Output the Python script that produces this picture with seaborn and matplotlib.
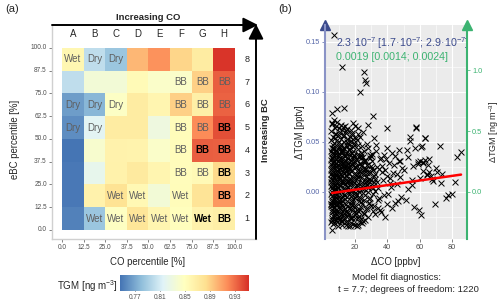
import numpy as np
import matplotlib.pyplot as plt
import seaborn as sns
from matplotlib.ticker import MultipleLocator

sns.set_style("white")
plt.rcParams['font.family'] = ['Liberation Sans', 'DejaVu Sans']
plt.rcParams['mathtext.fontset'] = 'custom'
plt.rcParams['mathtext.rm'] = 'Liberation Sans'
plt.rcParams['mathtext.it'] = 'Liberation Sans:italic'

# ---- panel (a) data ----
co_letters = ["A", "B", "C", "D", "E", "F", "G", "H"]
bc_rows = [8, 7, 6, 5, 4, 3, 2, 1]
pct_ticks = ["0.0", "12.5", "25.0", "37.5", "50.0", "62.5", "75.0", "87.5", "100.0"]
cbar_ticks = [0.77, 0.81, 0.85, 0.89, 0.93]

# TGM per cell, rows from BC class 8 (top) to 1 (bottom)
tgm_row8 = [0.858, 0.800, 0.785, 0.900, 0.915, 0.887, 0.870, 0.950]
tgm_row7 = [0.800, 0.835, 0.835, 0.855, 0.843, 0.843, 0.890, 0.935]
tgm_row6 = [0.765, 0.777, 0.845, 0.870, 0.860, 0.890, 0.866, 0.933]
tgm_row5 = [0.758, 0.818, 0.870, 0.870, 0.830, 0.853, 0.918, 0.940]
tgm_row4 = [0.746, 0.840, 0.863, 0.862, 0.843, 0.852, 0.935, 0.934]
tgm_row3 = [0.748, 0.822, 0.864, 0.872, 0.860, 0.852, 0.856, 0.886]
tgm_row2 = [0.748, 0.863, 0.880, 0.857, 0.835, 0.853, 0.878, 0.913]
tgm_row1 = [0.752, 0.785, 0.847, 0.877, 0.860, 0.850, 0.863, 0.866]

labels_row8 = ["Wet", "Dry", "Dry", "", "", "", "", ""]
labels_row7 = ["", "", "", "", "", "BB", "BB", "BB"]
labels_row6 = ["Dry", "Dry", "Dry", "", "", "BB", "BB", "BB"]
labels_row5 = ["Dry", "Dry", "", "", "", "BB", "BB", "BB"]
labels_row4 = ["", "", "", "", "", "BB", "BB", "BB"]
labels_row3 = ["", "", "", "", "", "BB", "BB", "BB"]
labels_row2 = ["", "", "Wet", "Wet", "", "Wet", "", "BB"]
labels_row1 = ["", "Wet", "Wet", "Wet", "Wet", "Wet", "Wet", "BB"]
bold_cells = [(5, "H"), (4, "G"), (4, "H"), (3, "H"), (2, "H"), (1, "G"), (1, "H")]

# ---- panel (b) data: scatter points ----
dco_main = [
    7.0, 11.8, 25.5, 26.0, 26.8, 23.0, 5.5, 9.0, 13.0, 31.0,
    40.0, 58.0, 6.0, 8.5, 10.0, 12.5, 15.0, 17.5, 20.0, 22.0,
    19.0, 22.0, 25.0, 28.0, 23.0, 32.0, 40.0, 47.0, 63.0, 61.0,
    5.2, 6.1, 7.3, 8.0, 9.4, 10.2, 11.5, 12.8, 13.6, 14.9,
    16.2, 17.0, 18.4, 19.6, 21.0, 22.3, 24.1, 25.7, 27.2, 29.0,
    5.6, 6.8, 8.7, 9.9, 11.1, 12.2, 14.0, 15.6, 17.8, 19.1,
    20.5, 23.4, 26.3, 28.1, 30.4, 33.0, 35.2, 6.4, 7.8, 10.6,
    13.2, 15.1, 18.9, 21.8, 24.7, 5.9, 8.3, 11.9, 16.7, 20.1,
    5.1, 5.3, 5.5, 5.2, 5.8, 5.4, 5.9, 5.6, 5.0, 5.7,
    6.2, 6.6, 7.1, 6.4, 6.9, 7.4, 6.0, 6.8, 7.2, 6.5,
    7.7, 8.1, 8.6, 9.0, 9.3, 7.9, 8.4, 8.9, 9.5, 8.2,
    9.7, 10.1, 10.5, 10.9, 11.3, 9.8, 10.3, 10.8, 11.4, 10.0,
    11.6, 12.0, 12.4, 12.9, 13.3, 11.8, 12.3, 12.7, 13.1, 13.5,
    13.7, 14.1, 14.6, 15.0, 15.4, 13.9, 14.4, 14.8, 15.2, 14.2,
    15.7, 16.2, 16.6, 17.1, 17.6, 15.9, 16.4, 16.9, 17.4, 17.9,
    18.1, 18.6, 19.0, 19.5, 20.0, 18.3, 18.8, 19.3, 19.8, 20.3,
    20.6, 21.1, 21.6, 22.1, 22.6, 20.9, 21.4, 21.9, 22.4, 22.9,
    23.2, 23.8, 24.4, 25.0, 25.6, 23.5, 24.1, 24.7, 25.3, 25.9,
    26.2, 26.8, 27.4, 28.0, 28.6, 26.5, 27.1, 27.7, 28.3, 28.9,
    29.3, 29.9, 30.6, 31.3, 32.0, 29.6, 30.2, 31.0, 31.7, 32.5,
    5.3, 6.0, 6.7, 7.5, 8.2, 9.1, 10.0, 10.8, 11.7, 12.6,
    13.5, 14.4, 15.3, 16.3, 17.2, 18.2, 19.2, 20.2, 21.3, 22.4,
    23.5, 24.7, 25.8, 27.0, 28.3, 29.6, 31.0, 32.4, 34.0, 36.1,
    5.8, 7.0, 8.6, 9.6, 11.2, 12.1, 13.9, 15.8, 17.7, 19.7,
    21.8, 24.0, 26.4, 6.0, 14.2, 16.9, 18.6, 20.9, 22.8, 38.5,
    30.8, 32.1, 33.5, 34.7, 35.9, 37.2, 38.4, 39.6, 40.9, 42.3,
    43.6, 45.0, 46.4, 47.8, 49.2, 31.5, 33.0, 34.3, 36.5, 37.8,
    39.1, 41.4, 42.9, 44.2, 45.8, 47.1, 48.6, 33.8, 35.4, 38.0,
    40.3, 43.1, 46.0, 36.8, 41.9, 44.8, 30.1, 34.9, 39.8, 48.0,
    50.5, 51.8, 53.0, 54.2, 55.4, 56.6, 57.7, 58.9, 60.0, 61.2,
    62.3, 63.5, 64.6, 65.8, 67.0, 68.3, 69.5, 71.0, 72.4, 74.0,
    76.0, 77.6, 79.8, 82.0, 83.0, 85.6, 59.5, 60.8, 62.0, 63.2,
    64.4, 66.0, 52.0, 54.0, 57.0, 59.0, 60.0, 52.5, 56.0, 70.0,
    73.5, 55.0, 61.8, 65.2, 67.5,
]
dtgm_main = [
    0.157, 0.125, 0.120, 0.112, 0.109, 0.100, 0.079, 0.083, 0.084, 0.076,
    0.064, 0.064, 0.069, 0.066, 0.064, 0.065, 0.063, 0.062, 0.066, 0.058,
    0.069, 0.064, 0.060, 0.067, 0.055, 0.054, 0.044, 0.042, 0.054, 0.045,
    0.052, 0.047, 0.054, 0.041, 0.049, 0.038, 0.053, 0.044, 0.036, 0.050,
    0.042, 0.055, 0.039, 0.047, 0.052, 0.035, 0.046, 0.041, 0.048, 0.037,
    0.034, 0.031, 0.037, 0.033, 0.030, 0.040, 0.032, 0.034, 0.031, 0.036,
    0.033, 0.039, 0.032, 0.044, 0.038, 0.047, 0.033, 0.044, 0.058, 0.045,
    0.057, 0.046, 0.053, 0.043, 0.035, 0.039, 0.033, 0.041, 0.038, 0.030,
    0.028, 0.022, 0.016, 0.010, 0.004, -0.002, -0.008, 0.025, 0.013, 0.019,
    0.026, 0.020, 0.014, 0.008, 0.002, -0.004, -0.010, 0.030, 0.011, 0.017,
    0.024, 0.018, 0.012, 0.006, 0.000, -0.006, 0.028, 0.021, 0.015, 0.003,
    0.027, 0.019, 0.013, 0.007, 0.001, -0.005, -0.011, 0.023, 0.010, 0.016,
    0.025, 0.017, 0.011, 0.004, -0.003, -0.009, 0.029, 0.021, 0.014, 0.008,
    0.026, 0.020, 0.012, 0.005, -0.001, -0.007, 0.016, 0.009, 0.023, 0.002,
    0.024, 0.018, 0.010, 0.003, -0.004, 0.028, 0.013, 0.007, 0.021, -0.010,
    0.022, 0.015, 0.008, 0.001, -0.006, 0.027, 0.011, 0.018, 0.004, -0.002,
    0.025, 0.017, 0.009, 0.002, -0.005, 0.013, 0.021, 0.006, -0.009, 0.028,
    0.021, 0.014, 0.006, -0.001, -0.008, 0.026, 0.010, 0.018, 0.003, 0.012,
    0.023, 0.015, 0.007, 0.000, -0.007, 0.011, 0.027, 0.019, 0.004, 0.013,
    0.020, 0.012, 0.005, -0.002, 0.016, 0.026, 0.008, 0.022, 0.010, 0.001,
    -0.014, -0.020, -0.016, -0.024, -0.018, -0.022, -0.015, -0.027, -0.019, -0.023,
    -0.017, -0.030, -0.021, -0.016, -0.026, -0.013, -0.020, -0.033, -0.018, -0.024,
    -0.015, -0.029, -0.021, -0.017, -0.025, -0.014, -0.019, -0.022, -0.016, -0.020,
    -0.028, -0.031, -0.026, -0.034, -0.029, -0.033, -0.027, -0.034, -0.031, -0.026,
    -0.033, -0.031, -0.028, -0.038, -0.033, -0.034, -0.032, -0.034, -0.030, -0.025,
    0.031, 0.018, 0.025, -0.006, 0.034, 0.012, 0.022, -0.012, 0.029, 0.005,
    0.019, 0.036, -0.009, 0.015, 0.024, -0.014, 0.041, 0.004, 0.020, -0.003,
    0.033, 0.014, -0.016, 0.027, 0.008, 0.031, -0.005, 0.010, -0.018, 0.037,
    -0.002, 0.039, 0.018, 0.026, 0.009, -0.011, 0.036, 0.023, 0.016, 0.031,
    0.022, -0.008, 0.035, 0.051, 0.012, -0.015, 0.065, 0.028, 0.031, 0.046,
    0.029, 0.054, 0.018, 0.033, 0.016, 0.011, -0.012, 0.020, 0.046, 0.018,
    -0.006, -0.003, -0.002, 0.010, 0.035, 0.040, -0.018, -0.023, 0.030, 0.032,
    0.017, 0.020, 0.042, 0.055, 0.044, 0.030, 0.014, 0.003, 0.026, 0.024,
    0.009, 0.007, 0.021, 0.027, 0.013,
]
# dense core of the cloud (low dCO)
dco_core = [
    5.4, 6.3, 7.1, 8.2, 9.0, 9.8, 10.7, 11.4, 12.3, 13.1,
    14.2, 15.3, 16.1, 17.3, 18.2, 19.4, 20.6, 21.7, 5.9, 7.6,
    8.8, 10.3, 12.0, 13.8, 15.8, 17.9, 6.7, 11.0, 14.6, 18.7,
    5.1, 5.6, 6.2, 6.9, 7.5, 8.1, 8.8, 9.4, 10.1, 10.8,
    11.5, 12.2, 12.9, 13.7, 14.5, 15.3, 16.1, 17.0, 17.9, 18.8,
    19.7, 20.7, 21.7, 22.8, 23.9, 25.1, 26.4, 27.7, 29.1, 30.6,
    5.3, 5.9, 6.5, 7.2, 7.9, 8.5, 9.2, 9.9, 10.5, 11.2,
    11.9, 12.6, 13.3, 14.1, 14.9, 15.7, 16.6, 17.5, 18.4, 19.3,
    20.2, 21.2, 22.3, 23.4, 24.5, 25.7, 27.0, 28.4, 5.5, 6.6,
    5.2, 5.7, 6.3, 6.8, 7.4, 8.0, 8.7, 9.3, 10.0, 10.6,
    11.3, 12.0, 12.7, 13.4, 14.2, 15.0, 15.8, 16.7, 17.6, 18.5,
    19.5, 20.5, 21.6, 22.7, 23.9, 25.1, 26.4, 27.8, 29.3, 30.9,
    32.5, 34.2, 5.4, 6.0, 6.6, 7.2, 7.8, 8.4, 9.1, 9.7,
    10.4, 11.1, 11.8, 12.5, 13.2, 14.0, 14.8, 15.6, 16.4, 17.3,
    18.2, 19.1, 20.1, 21.1, 22.2, 23.3, 24.5, 25.8, 27.1, 28.6,
    5.0, 5.5, 6.1, 6.4, 7.0, 7.6, 8.3, 9.0, 9.6, 10.2,
    5.1, 5.6, 6.2, 6.8, 7.3, 7.9, 8.5, 9.2, 9.8, 10.5,
    11.2, 11.9, 12.7, 13.4, 14.2, 15.0, 15.9, 16.8, 17.7, 18.7,
    19.7, 20.8, 21.9, 23.1, 24.4, 25.7, 27.1, 28.6, 5.3, 5.9,
    6.5, 7.1, 7.7, 8.3, 9.0, 9.6, 10.3, 11.0, 11.8, 12.5,
    13.3, 14.1, 15.1, 16.1, 17.1, 18.2, 19.4, 20.6, 22.0, 23.5,
]
dtgm_core = [
    0.061, 0.055, 0.049, 0.058, 0.052, 0.046, 0.060, 0.048, 0.056, 0.050,
    0.059, 0.053, 0.047, 0.051, 0.057, 0.049, 0.054, 0.047, 0.068, 0.064,
    0.070, 0.057, 0.062, 0.066, 0.049, 0.059, 0.072, 0.067, 0.061, 0.045,
    0.041, 0.035, 0.029, 0.043, 0.037, 0.026, 0.040, 0.031, 0.044, 0.034,
    0.028, 0.042, 0.036, 0.024, 0.039, 0.030, 0.043, 0.027, 0.035, 0.041,
    0.025, 0.033, 0.038, 0.029, 0.036, 0.022, 0.031, 0.027, 0.034, 0.024,
    0.032, 0.044, 0.038, 0.027, 0.033, 0.042, 0.023, 0.036, 0.029, 0.040,
    0.033, 0.025, 0.044, 0.031, 0.027, 0.038, 0.023, 0.032, 0.028, 0.037,
    0.030, 0.026, 0.021, 0.034, 0.027, 0.031, 0.023, 0.019, 0.023, 0.036,
    0.006, -0.004, 0.012, -0.007, 0.003, 0.016, -0.002, 0.009, -0.008, 0.014,
    0.001, -0.006, 0.011, -0.003, 0.017, -0.009, 0.005, -0.001, 0.013, -0.007,
    0.009, -0.004, 0.015, 0.000, -0.010, 0.007, -0.003, 0.011, -0.006, 0.004,
    0.013, -0.008, 0.018, 0.000, -0.009, 0.015, 0.007, -0.003, 0.019, 0.001,
    0.006, 0.018, -0.004, 0.009, 0.019, 0.003, -0.005, 0.011, 0.019, 0.001,
    -0.008, 0.014, -0.001, 0.007, 0.017, -0.006, 0.003, 0.019, 0.008, -0.011,
    -0.012, 0.007, -0.013, 0.002, -0.012, -0.009, 0.009, -0.012, 0.004, -0.011,
    -0.012, -0.018, -0.024, -0.015, -0.021, -0.028, -0.013, -0.019, -0.025, -0.016,
    -0.022, -0.013, -0.027, -0.018, -0.024, -0.014, -0.020, -0.026, -0.012, -0.017,
    -0.023, -0.014, -0.026, -0.018, -0.012, -0.022, -0.016, -0.011, -0.030, -0.026,
    -0.032, -0.019, -0.027, -0.013, -0.030, -0.021, -0.028, -0.011, -0.029, -0.015,
    -0.021, -0.012, -0.029, -0.022, -0.016, -0.026, -0.014, -0.021, -0.019, -0.027,
]
fit_x = [5.8, 85.6]
fit_y = [-0.0010, 0.0174]
pptv_to_ng = 8.2

tgm = np.array([tgm_row8, tgm_row7, tgm_row6, tgm_row5,
                tgm_row4, tgm_row3, tgm_row2, tgm_row1])
labels = np.array([labels_row8, labels_row7, labels_row6, labels_row5,
                   labels_row4, labels_row3, labels_row2, labels_row1])
dco = dco_main + dco_core
dtgm = dtgm_main + dtgm_core

W, H = 500, 303
fig = plt.figure(figsize=(W / 100, H / 100), dpi=100)

def fx(px):
    return px / W

def fy(py):
    return 1 - py / H

# ---- (a) heatmap ----
ax_h = fig.add_axes([fx(52), fy(239), fx(256) - fx(52), fy(25) - fy(239)])
cax = fig.add_axes([fx(120), fy(291), fx(249) - fx(120), fy(275) - fy(291)])
cmap = sns.blend_palette(["#4575b4", "#91bfdb", "#e0f3f8", "#ffffbf",
                          "#fee090", "#fc8d59", "#d73027"], as_cmap=True)
sns.heatmap(tgm, cmap=cmap, vmin=0.746, vmax=0.952, annot=labels, fmt="",
            annot_kws={"fontsize": 7}, ax=ax_h, cbar_ax=cax,
            cbar_kws={"orientation": "horizontal", "ticks": cbar_ticks})

bold_set = {(bc_rows.index(r), co_letters.index(c)) for r, c in bold_cells}
for k, t in enumerate(ax_h.texts):
    i, j = divmod(k, 8)
    if (i, j) in bold_set:
        t.set_color("black")
        t.set_fontweight("bold")
    else:
        t.set_color("#5e5e5e")

ax_h.set_xlim(-0.46, 8.97)
ax_h.set_ylim(8.40, -1.01)
ax_h.set_xticks(np.arange(9))
ax_h.set_xticklabels(pct_ticks, rotation=0)
ax_h.set_yticks(np.arange(9))
ax_h.set_yticklabels(pct_ticks[::-1], rotation=0)
ax_h.tick_params(labelsize=4.7, labelcolor="#4d4d4d", length=2.2, width=0.5,
                 color="#4d4d4d", pad=1.5, left=True, bottom=True)
for side in ["top", "right"]:
    ax_h.spines[side].set_visible(False)
for side in ["left", "bottom"]:
    ax_h.spines[side].set_visible(True)
    ax_h.spines[side].set_color("#d0d0d0")
    ax_h.spines[side].set_linewidth(1.0)
ax_h.set_xlabel("CO percentile [%]", fontsize=6.9)
ax_h.set_ylabel("eBC percentile [%]", fontsize=6.9)
ax_h.xaxis.set_label_coords(0.47, -0.085)
ax_h.yaxis.set_label_coords(-0.157, 0.467)

for j, letter in enumerate(co_letters):
    ax_h.text(j + 0.5, -0.62, letter, ha="center", va="center", fontsize=7)
for i, r in enumerate(bc_rows):
    ax_h.text(8.55, i + 0.5, str(r), ha="center", va="center", fontsize=6.5)

# arrows
fig.add_artist(plt.Line2D([fx(52), fx(247)], [fy(25), fy(25)], color="black", lw=1.4))
ax_h.annotate("", xy=(fx(258), fy(25)), xytext=(fx(240), fy(25)), xycoords="figure fraction",
              arrowprops=dict(arrowstyle="-|>,head_length=0.9,head_width=0.45",
                              color="black", lw=1.4, shrinkA=0, shrinkB=0))
fig.add_artist(plt.Line2D([fx(256), fx(256)], [fy(239), fy(36)], color="black", lw=1.4))
ax_h.annotate("", xy=(fx(256), fy(24)), xytext=(fx(256), fy(40)), xycoords="figure fraction",
              arrowprops=dict(arrowstyle="-|>,head_length=0.9,head_width=0.45",
                              color="black", lw=1.4, shrinkA=0, shrinkB=0))
fig.text(fx(148), fy(17), "Increasing CO", ha="center", va="center",
         fontsize=6.8, fontweight="bold")
fig.text(fx(266), fy(130), "Increasing BC", ha="center", va="center",
         fontsize=6.8, fontweight="bold", rotation=90)

cax.tick_params(labelsize=4.7, labelcolor="#4d4d4d", length=3, width=0.6,
                color="#333333", direction="in", top=True, bottom=True, pad=2)
cax.set_xticklabels([f"{v:.2f}" for v in cbar_ticks])
ax_h.collections[0].colorbar.outline.set_visible(False)
fig.text(fx(87), fy(286), "TGM [ng m$^{-3}$]", ha="center", va="center", fontsize=7)

fig.text(fx(12), fy(9), "(a)", ha="center", va="center", fontsize=8)
fig.text(fx(285), fy(9), "(b)", ha="center", va="center", fontsize=8)

# ---- (b) scatter ----
blue_line = "#8a93c6"
blue_dark = "#3b4a8c"
blue_txt = "#5566a8"
green = "#3cb371"

ax_s = fig.add_axes([fx(325), fy(239), fx(467) - fx(325), fy(25) - fy(239)])
ax_s.set_facecolor("#ebebeb")
sns.scatterplot(x=dco, y=dtgm, marker="x", color="black", s=18, linewidth=0.7, ax=ax_s)
sns.lineplot(x=fit_x, y=fit_y, color="red", lw=1.8, ax=ax_s)
ax_s.set_xlim(1.4, 89.3)
ax_s.set_ylim(-0.047, 0.167)
ax_s.set_xticks([20, 40, 60, 80])
ax_s.set_yticks([0.0, 0.05, 0.10, 0.15])
ax_s.set_yticklabels(["0.00", "0.05", "0.10", "0.15"])
ax_s.xaxis.set_minor_locator(MultipleLocator(10))
ax_s.yaxis.set_minor_locator(MultipleLocator(0.025))
ax_s.grid(True, which="major", color="white", lw=0.8)
ax_s.grid(True, which="minor", color="white", lw=0.4)
ax_s.set_axisbelow(True)
for side in ["top", "right", "bottom"]:
    ax_s.spines[side].set_visible(False)
ax_s.spines["left"].set_color(blue_line)
ax_s.spines["left"].set_linewidth(1.5)
ax_s.tick_params(axis="x", labelsize=5.3, labelcolor="#4d4d4d", length=2.2,
                 width=0.5, color="#4d4d4d", pad=1.5, bottom=True)
ax_s.tick_params(axis="y", labelsize=5.3, labelcolor=blue_txt, length=2.2,
                 width=0.5, color=blue_txt, pad=1.5, left=True)
ax_s.tick_params(which="minor", length=0)
ax_s.set_xlabel("ΔCO [ppbv]", fontsize=6.9)
ax_s.set_ylabel("ΔTGM [pptv]", fontsize=6.9)
ax_s.xaxis.set_label_coords(0.5, -0.085)
ax_s.yaxis.set_label_coords(-0.14, 0.5)
ax_s.plot(0, 1, marker="^", color=blue_dark, markersize=7, transform=ax_s.transAxes,
          clip_on=False)

ax_r = ax_s.twinx()
ax_r.set_ylim(-0.047 * pptv_to_ng, 0.167 * pptv_to_ng)
ax_r.set_yticks([0.0, 0.5, 1.0])
ax_r.set_yticklabels(["0.0", "0.5", "1.0"])
for side in ["top", "left", "bottom"]:
    ax_r.spines[side].set_visible(False)
ax_r.spines["right"].set_color(green)
ax_r.spines["right"].set_linewidth(1.5)
ax_r.tick_params(axis="y", labelsize=5.3, labelcolor=green, length=2.2, width=0.5,
                 color=green, pad=1.5, right=True)
ax_r.set_ylabel("ΔTGM [ng m$^{-3}$]", fontsize=6.5, rotation=90)
ax_r.yaxis.set_label_coords(1.145, 0.5)
ax_r.plot(1, 1, marker="^", color=green, markersize=7, transform=ax_r.transAxes,
          clip_on=False)

ax_s.text(0.077, 0.916, "2.3·10$^{-7}$ [1.7·10$^{-7}$; 2.9·10$^{-7}$]",
          transform=ax_s.transAxes, color=blue_dark, fontsize=7.7, va="center")
ax_s.text(0.077, 0.85, "0.0019 [0.0014; 0.0024]", transform=ax_s.transAxes,
          color=green, fontsize=7.7, va="center")

fig.text(fx(396), fy(277), "Model fit diagnostics:", ha="center", va="center", fontsize=6.8)
fig.text(fx(408), fy(290), "t = 7.7; degrees of freedom: 1220", ha="center",
         va="center", fontsize=6.8)

fig.savefig("out.png", dpi=100)
